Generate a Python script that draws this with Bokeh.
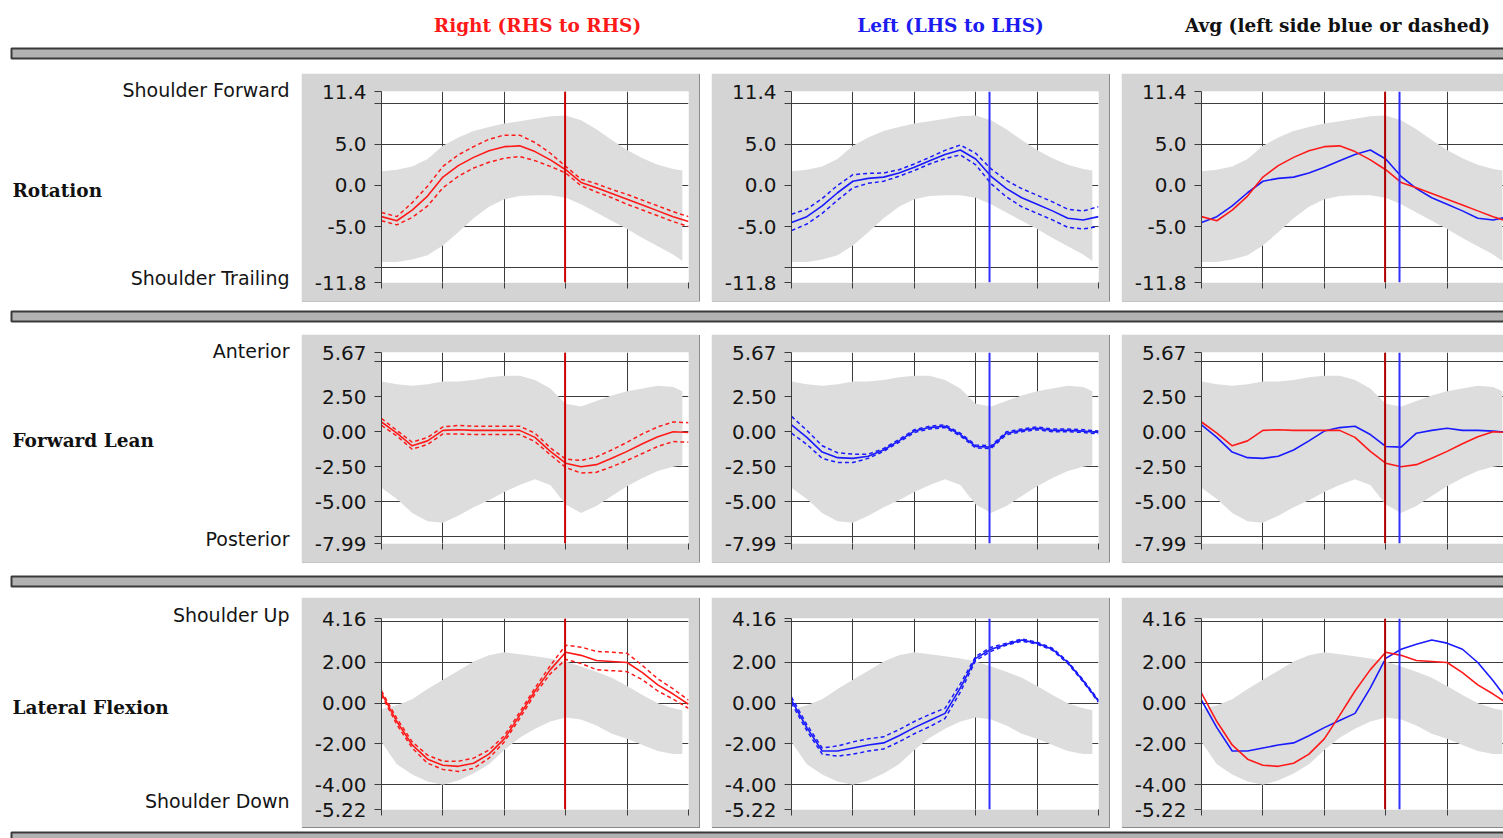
from bokeh.plotting import figure
from bokeh.layouts import row, column
from bokeh.models import Spacer, Label, FixedTicker, PrintfTickFormatter, Span, BoxAnnotation, Range1d
from bokeh.embed import file_html
from bokeh.resources import INLINE

# ---------------- data (percent of stride) ----------------
pct = [0, 5, 10, 15, 20, 25, 30, 35, 40, 45, 50, 55, 60, 65, 70, 75, 80, 85, 90, 95, 100]
band_pct = [0, 5, 10, 15, 20, 25, 30, 35, 40, 45, 50, 55, 60, 65, 70, 75, 80, 85, 90, 95, 98]
x_ticks = [0, 20, 40, 60, 80, 100]

# toe-off / event markers (% of cycle)
right_event = 59.8
left_event = 64.5

# Rotation
rot_band_hi = [1.7, 1.9, 2.3, 3.2, 4.8, 5.8, 6.6, 7.1, 7.5, 7.8, 8.1, 8.4, 8.5, 7.9, 6.8, 5.5, 4.3, 3.3, 2.5, 2.0, 1.8]
rot_band_lo = [-9.3, -9.3, -9.0, -8.5, -7.3, -5.7, -4.0, -2.6, -1.7, -1.3, -1.2, -1.2, -1.5, -2.3, -3.3, -4.3, -5.3, -6.4, -7.4, -8.4, -9.2]
rot_right = [-3.8, -4.3, -3.0, -1.3, 1.0, 2.4, 3.4, 4.2, 4.7, 4.8, 4.1, 3.1, 1.9, 0.35, -0.3, -1.0, -1.7, -2.4, -3.1, -3.8, -4.4]
rot_right_sd = [0.5, 0.5, 0.9, 1.2, 1.3, 1.3, 1.3, 1.4, 1.4, 1.3, 1.1, 0.8, 0.4, 0.4, 0.5, 0.5, 0.6, 0.6, 0.6, 0.6, 0.6]
rot_left = [-4.5, -3.8, -2.5, -0.9, 0.5, 0.85, 1.0, 1.5, 2.2, 3.0, 3.75, 4.3, 3.2, 1.1, -0.4, -1.5, -2.3, -3.1, -4.0, -4.2, -3.8]
rot_left_sd = [1.0, 0.9, 0.9, 0.9, 0.8, 0.6, 0.5, 0.4, 0.4, 0.4, 0.5, 0.6, 0.7, 0.9, 1.0, 1.1, 1.1, 1.1, 1.1, 1.1, 1.2]
rot_range = (-11.8, 11.4)
rot_major = [11.4, 5.0, 0.0, -5.0, -11.8]
rot_minor = [10.0, -10.0]

# Forward lean
lean_band_hi = [3.6, 3.4, 3.3, 3.4, 3.6, 3.6, 3.7, 3.9, 4.0, 4.0, 3.7, 3.1, 2.0, 1.8, 2.2, 2.6, 2.9, 3.1, 3.3, 3.2, 2.9]
lean_band_lo = [-4.0, -4.8, -5.8, -6.4, -6.5, -6.0, -5.4, -4.9, -4.3, -3.8, -3.4, -3.8, -5.2, -5.8, -5.3, -4.6, -3.9, -3.3, -2.8, -2.5, -2.4]
lean_right = [0.7, -0.1, -1.0, -0.65, 0.1, 0.15, 0.1, 0.1, 0.1, 0.1, -0.4, -1.4, -2.25, -2.5, -2.35, -1.9, -1.4, -0.85, -0.35, 0.0, -0.05]
lean_right_sd = [0.25, 0.2, 0.25, 0.25, 0.25, 0.3, 0.3, 0.3, 0.3, 0.3, 0.3, 0.25, 0.3, 0.45, 0.55, 0.6, 0.65, 0.7, 0.7, 0.7, 0.7]
lean_left = [0.5, -0.4, -1.45, -1.85, -1.9, -1.75, -1.3, -0.65, 0.05, 0.3, 0.4, -0.2, -1.05, -1.1, -0.1, 0.1, 0.25, 0.1, 0.1, 0.05, -0.05]
lean_left_sd = [0.6, 0.5, 0.45, 0.35, 0.3, 0.15, 0.1, 0.1, 0.1, 0.1, 0.1, 0.1, 0.1, 0.1, 0.1, 0.1, 0.1, 0.1, 0.1, 0.1, 0.1]
lean_range = (-7.99, 5.67)
lean_major = [5.67, 2.5, 0.0, -2.5, -5.0, -7.99]
lean_minor = [5.0, -7.5]

# Lateral flexion
lat_band_hi = [-0.3, -0.1, 0.2, 0.7, 1.15, 1.6, 2.05, 2.35, 2.5, 2.4, 2.3, 2.2, 2.05, 1.8, 1.55, 1.25, 0.85, 0.4, 0.0, -0.25, -0.35]
lat_band_lo = [-1.9, -3.0, -3.5, -3.85, -4.0, -3.8, -3.45, -3.0, -2.3, -1.7, -1.25, -0.9, -0.7, -0.8, -1.1, -1.5, -1.75, -2.05, -2.35, -2.5, -2.5]
lat_right = [0.5, -0.9, -2.05, -2.75, -3.05, -3.1, -2.95, -2.5, -1.75, -0.6, 0.6, 1.65, 2.5, 2.35, 2.1, 2.05, 2.0, 1.5, 0.9, 0.45, -0.05]
lat_right_sd = [0.1, 0.15, 0.15, 0.2, 0.2, 0.25, 0.25, 0.2, 0.15, 0.15, 0.15, 0.2, 0.35, 0.4, 0.45, 0.45, 0.45, 0.35, 0.3, 0.25, 0.2]
lat_left = [0.15, -1.2, -2.35, -2.35, -2.2, -2.05, -1.95, -1.6, -1.2, -0.85, -0.5, 0.75, 2.2, 2.65, 2.9, 3.1, 2.95, 2.65, 2.0, 1.1, 0.1]
lat_left_sd = [0.15, 0.15, 0.15, 0.25, 0.3, 0.3, 0.3, 0.3, 0.3, 0.3, 0.25, 0.2, 0.1, 0.1, 0.05, 0.05, 0.05, 0.05, 0.05, 0.05, 0.05]
lat_range = (-5.22, 4.16)
lat_major = [4.16, 2.0, 0.0, -2.0, -4.0, -5.22]
lat_minor = [4.0]

column_titles = ["Right (RHS to RHS)", "Left (LHS to LHS)", "Avg (left side blue or dashed)"]
row_titles = ["Rotation", "Forward Lean", "Lateral Flexion"]
side_labels = [("Shoulder Forward", "Shoulder Trailing"), ("Anterior", "Posterior"), ("Shoulder Up", "Shoulder Down")]

# ---------------- styles ----------------
RED = "#ff1a1a"
RED_V = "#cc0000"
BLUE = "#1a1aff"
BLUE_V = "#3030ff"
FRAME = "#d4d4d4"
BAND = "#dddddd"
GRID = "#3c3c3c"
TXT = "#141414"
W = 1503


def decor(width, height):
    p = figure(width=width, height=height, x_range=Range1d(0, width), y_range=Range1d(height, 0),
               x_axis_type=None, y_axis_type=None, output_backend="svg", toolbar_location=None,
               min_border=0, outline_line_color=None, background_fill_color="white",
               border_fill_color="white", frame_align=False)
    p.xgrid.visible = False
    p.ygrid.visible = False
    return p


def bar(p, top, bottom):
    p.add_layout(BoxAnnotation(left=11, right=W + 10, top=top, bottom=bottom, fill_color="#b2b2b2",
                               fill_alpha=1, line_color="#3a3a3a", line_width=2, line_alpha=1))


def band_upper(m, s):
    return [a + b for a, b in zip(m, s)]


def band_lower(m, s):
    return [a - b for a, b in zip(m, s)]


def panel(width, xend, border_right, height, top, bottom, yr, major, minor, fmt,
          blo, bhi, lines, spans):
    p = figure(width=width, height=height, x_range=Range1d(0, xend), y_range=Range1d(yr[0], yr[1]),
               output_backend="svg", toolbar_location=None, min_border_left=80,
               min_border_right=border_right, min_border_top=top, min_border_bottom=bottom,
               background_fill_color="white", border_fill_color=FRAME, outline_line_color=None,
               styles={"box-shadow": "1px 1px 0 #8a8a8a"})
    p.varea(x=band_pct, y1=blo, y2=bhi, fill_color=BAND, fill_alpha=1)
    for ys, color, dash, lw in lines:
        p.line(pct, ys, line_color=color, line_dash=dash, line_width=lw)
    for loc, color in spans:
        p.add_layout(Span(location=loc, dimension="height", line_color=color, line_width=2))

    yax = p.yaxis[0]
    yax.ticker = FixedTicker(ticks=major, minor_ticks=minor)
    yax.formatter = PrintfTickFormatter(format=fmt)
    yax.major_label_text_font = "DejaVu Sans"
    yax.major_label_text_font_size = "20px"
    yax.major_label_text_color = TXT
    yax.major_label_standoff = 8
    yax.major_tick_in = 0
    yax.major_tick_out = 7
    yax.minor_tick_in = 0
    yax.minor_tick_out = 7
    yax.major_tick_line_color = GRID
    yax.minor_tick_line_color = GRID
    yax.axis_line_color = GRID

    # x axis: unlabeled tick marks only (drawn as minor ticks), detached from the plot edge
    xax = p.xaxis[0]
    xax.ticker = FixedTicker(ticks=[], minor_ticks=x_ticks)
    xax.axis_line_color = None
    xax.major_tick_line_color = None
    xax.minor_tick_in = 0
    xax.minor_tick_out = 11
    xax.minor_tick_line_color = GRID
    xax.minor_tick_line_width = 1
    xax.minor_tick_line_dash = "6 5"
    xax.minor_tick_line_dash_offset = 6

    p.xgrid.ticker = FixedTicker(ticks=[20, 40, 60, 80])
    p.xgrid.grid_line_color = GRID
    p.ygrid.ticker = FixedTicker(ticks=[t for t in major + minor if t != yr[0]])
    p.ygrid.grid_line_color = GRID
    return p


def label_fig(height, title, up, down, y_up, y_down, y_title):
    p = decor(301, height)
    p.add_layout(Label(x=12, y=y_title, text=title, text_align="left", text_baseline="middle",
                       text_font="DejaVu Serif", text_font_style="bold", text_font_size="18.5px",
                       text_color="#111111"))
    for t, yy in ((up, y_up), (down, y_down)):
        p.add_layout(Label(x=289, y=yy, text=t, text_align="right", text_baseline="middle",
                           text_font="DejaVu Sans", text_font_size="19px", text_color=TXT))
    return p


def make_row(height, top, bottom, yr, major, minor, fmt, blo, bhi,
             right_m, right_s, left_m, left_s, labels):
    r_lines = [(right_m, RED, "solid", 1.6),
               (band_upper(right_m, right_s), RED, "4 3", 1.5),
               (band_lower(right_m, right_s), RED, "4 3", 1.5)]
    l_lines = [(left_m, BLUE, "solid", 1.6),
               (band_upper(left_m, left_s), BLUE, "4 3", 1.5),
               (band_lower(left_m, left_s), BLUE, "4 3", 1.5)]
    a_lines = [(left_m, BLUE, "solid", 1.6), (right_m, RED, "solid", 1.6)]
    p1 = panel(398, 100, 11, height, top, bottom, yr, major, minor, fmt, blo, bhi, r_lines,
               [(right_event, RED_V)])
    p2 = panel(398, 100, 11, height, top, bottom, yr, major, minor, fmt, blo, bhi, l_lines,
               [(left_event, BLUE_V)])
    p3 = panel(382, 100 * 302 / 307, 0, height, top, bottom, yr, major, minor, fmt, blo, bhi, a_lines,
               [(right_event, "#b00000"), (left_event, BLUE_V)])
    return row(labels, p1, Spacer(width=12, height=height), p2, Spacer(width=12, height=height), p3)


# header with column titles and first separator
header = decor(W, 73)
for t, cx, col in zip(column_titles, [537, 950, 1337], [RED, "#1c1cf0", "#111111"]):
    header.add_layout(Label(x=cx, y=25, text=t, text_align="center", text_baseline="middle",
                            text_font="DejaVu Serif", text_font_style="bold", text_font_size="18.5px",
                            text_color=col))
bar(header, 48, 58)

row1 = make_row(228, 18, 19, rot_range, rot_major, rot_minor, "%.1f", rot_band_lo, rot_band_hi,
                rot_right, rot_right_sd, rot_left, rot_left_sd,
                label_fig(228, row_titles[0], side_labels[0][0], side_labels[0][1], 16, 204, 117))
sep2 = decor(W, 33)
bar(sep2, 10, 20)
row2 = make_row(228, 18, 19, lean_range, lean_major, lean_minor, "%.2f", lean_band_lo, lean_band_hi,
                lean_right, lean_right_sd, lean_left, lean_left_sd,
                label_fig(228, row_titles[1], side_labels[1][0], side_labels[1][1], 16, 204, 106))
sep3 = decor(W, 35)
bar(sep3, 14, 24)
row3 = make_row(230, 21, 18, lat_range, lat_major, lat_minor, "%.2f", lat_band_lo, lat_band_hi,
                lat_right, lat_right_sd, lat_left, lat_left_sd,
                label_fig(230, row_titles[2], side_labels[2][0], side_labels[2][1], 17, 203, 110))
sep4 = decor(W, 11)
bar(sep4, 4, 14)

page = column(header, row1, sep2, row2, sep3, row3, sep4)
open("out.html", "w").write(file_html(page, INLINE))
